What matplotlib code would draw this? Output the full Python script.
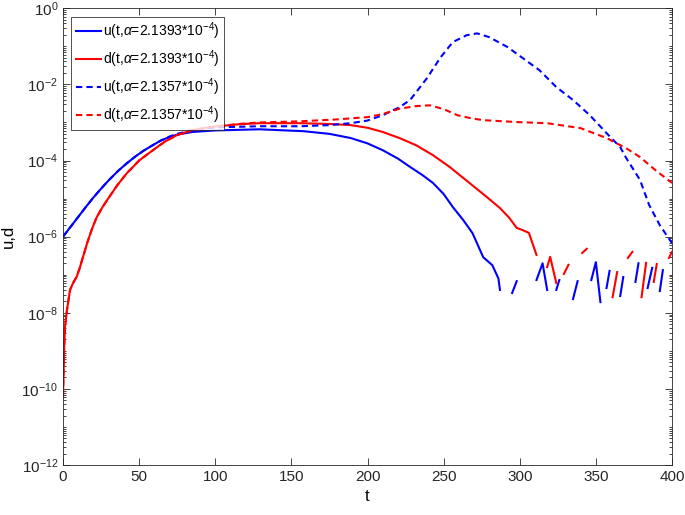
import numpy as np
import matplotlib
matplotlib.use('Agg')
import matplotlib.pyplot as plt
from matplotlib.ticker import LogLocator, NullFormatter

plt.rcParams['font.family'] = ['Liberation Sans', 'DejaVu Sans']
plt.rcParams['mathtext.fontset'] = 'custom'
plt.rcParams['mathtext.rm'] = 'Liberation Sans'
plt.rcParams['mathtext.it'] = 'Liberation Sans:italic'

nan = np.nan

# u(t), alpha = 2.1393e-4 (log10 values, nan = gap)
u1_t = [0, 5, 10, 15, 20, 25, 30, 36, 42, 48, 53, 58, 64, 70, 75, 85, 100, 129, 158, 175, 189, 200, 210, 220, 228, 236, 243, 250,
        256, 263, 269, 276, 282, 286, 287,
        288,
        295, 298, 299,
        311, 315, 318, 319,
        324, 326, 327,
        335, 338, 339,
        347, 350, 353, 354,
        357, 359, 360,
        366, 368, 369,
        376, 378, 379,
        384, 387, 388,
        392, 394]
u1_lg = [-6.0, -5.74, -5.48, -5.22, -4.97, -4.74, -4.52, -4.28, -4.07, -3.88, -3.74, -3.62, -3.48, -3.38, -3.32, -3.25, -3.21, -3.18, -3.23, -3.30, -3.41, -3.55, -3.73, -3.95, -4.17, -4.38, -4.59, -4.88,
         -5.22, -5.57, -5.91, -6.54, -6.75, -7.1, -7.4,
         nan,
         -7.48, -7.17, nan,
         -7.14, -6.70, -7.40, nan,
         -7.40, -7.14, nan,
         -7.64, -7.17, nan,
         -7.14, -6.67, -7.72, nan,
         -7.35, -6.90, nan,
         -7.56, -7.06, nan,
         -7.19, -6.70, nan,
         -7.35, -6.82, nan,
         -7.43, -6.88]

# d(t), alpha = 2.1393e-4
d1_t = [0, 0.7, 1.3, 2.6, 4.6, 6.6, 9, 11, 13, 16, 19, 22, 26, 30, 36, 42, 50, 59, 67, 75, 85, 97, 115, 129, 156, 175, 189, 200,
        210, 221, 232, 243, 254, 262, 271, 279, 287, 293, 298, 302, 306, 311,
        312,
        318, 320, 324, 325,
        329, 332, 333,
        341, 344, 345,
        361, 364, 365,
        371, 374, 375,
        380, 383, 384,
        388, 390, 391,
        398, 400]
d1_lg = [-10.2, -8.98, -8.37, -7.93, -7.40, -7.22, -7.05, -6.82, -6.55, -6.15, -5.8, -5.5, -5.22, -4.98, -4.63, -4.33, -4.0, -3.73, -3.5, -3.33, -3.2, -3.12, -3.05, -3.02, -3.02, -3.04, -3.07, -3.14,
         -3.25, -3.41, -3.60, -3.86, -4.17, -4.43, -4.72, -4.98, -5.25, -5.5, -5.77, -5.83, -5.90, -6.48,
         nan,
         -6.80, -6.53, -7.22, nan,
         -6.98, -6.74, nan,
         -6.43, -6.32, nan,
         -7.59, -6.93, nan,
         -6.56, -6.40, nan,
         -7.59, -6.69, nan,
         -7.19, -6.72, nan,
         -6.56, -6.40]

# u(t), alpha = 2.1357e-4
u2_t = [0, 5, 10, 15, 20, 25, 30, 36, 42, 48, 53, 58, 64, 70, 75, 85, 100, 129, 156, 175, 189, 200, 210, 221, 228, 239, 248, 256, 265, 272,
        280, 292, 302, 313, 324, 335, 346, 357, 366, 370, 379, 385, 392, 400]
u2_lg = [-6.0, -5.74, -5.48, -5.22, -4.97, -4.74, -4.52, -4.28, -4.07, -3.88, -3.74, -3.62, -3.48, -3.37, -3.30, -3.20, -3.13, -3.10, -3.10, -3.07, -3.02, -2.95, -2.81, -2.60, -2.41, -1.84, -1.29, -0.89, -0.71, -0.66,
         -0.76, -1.02, -1.31, -1.63, -2.07, -2.41, -2.81, -3.28, -3.65, -3.94, -4.51, -5.17, -5.70, -6.17]

# d(t), alpha = 2.1357e-4
d2_t = [0, 0.7, 1.3, 2.6, 4.6, 6.6, 9, 11, 13, 16, 19, 22, 26, 30, 36, 42, 50, 59, 67, 75, 85, 97, 115, 129, 156, 180, 200, 210, 221, 232, 241,
        250, 259, 268, 276, 298, 318, 340, 357, 370, 379, 389, 400]
d2_lg = [-10.2, -8.98, -8.37, -7.93, -7.40, -7.22, -7.05, -6.82, -6.55, -6.15, -5.8, -5.5, -5.22, -4.98, -4.63, -4.33, -4.0, -3.73, -3.5, -3.33, -3.2, -3.12, -3.04, -3.0, -2.97, -2.92, -2.86, -2.78, -2.64, -2.57, -2.55,
         -2.65, -2.81, -2.89, -2.94, -2.99, -3.02, -3.15, -3.41, -3.68, -3.91, -4.25, -4.59]

labels = [r'u(t,$\alpha$=2.1393*10$^{-4}$)', r'd(t,$\alpha$=2.1393*10$^{-4}$)',
          r'u(t,$\alpha$=2.1357*10$^{-4}$)', r'd(t,$\alpha$=2.1357*10$^{-4}$)']

fig = plt.figure(figsize=(6.85, 5.15), dpi=100)
ax = fig.add_axes([0.092, 0.097, 0.889, 0.887])

dash = (0, (3, 2))
ax.plot(u1_t, 10.0 ** np.array(u1_lg), color='#0000ff', lw=1.5, label=labels[0])
ax.plot(d1_t, 10.0 ** np.array(d1_lg), color='#ff0000', lw=1.5, label=labels[1])
ax.plot(u2_t, 10.0 ** np.array(u2_lg), color='#0000ff', lw=1.5, ls=dash, label=labels[2])
ax.plot(d2_t, 10.0 ** np.array(d2_lg), color='#ff0000', lw=1.5, ls=dash, label=labels[3])

ax.set_yscale('log')
ax.set_xlim(0, 400)
ax.set_ylim(1e-12, 1e0)
ax.set_xticks(range(0, 401, 50))
ax.set_yticks([10.0 ** k for k in range(-12, 1, 2)])
ax.set_yticklabels([r'$10^{%d}$' % k for k in range(-12, 1, 2)])
ax.yaxis.set_minor_locator(LogLocator(base=10, subs=np.arange(1, 10), numticks=100))
ax.yaxis.set_minor_formatter(NullFormatter())

ax.tick_params(which='both', direction='in', top=True, right=True, labelsize=11, width=0.6, colors='#262626')
ax.tick_params(which='major', length=5)
ax.tick_params(which='minor', length=2.5)
for s in ax.spines.values():
    s.set_linewidth(0.6)
    s.set_color('#262626')

ax.set_xlabel('t', fontsize=12)
ax.set_ylabel('u,d', fontsize=12)

leg = ax.legend(loc='upper left', fontsize=10, frameon=True, fancybox=False,
                edgecolor='black', handlelength=1.8, handletextpad=0.2,
                borderpad=0.3, labelspacing=0.45, borderaxespad=0.6)
leg.get_frame().set_linewidth(0.6)

fig.savefig('out.png', dpi=100)
